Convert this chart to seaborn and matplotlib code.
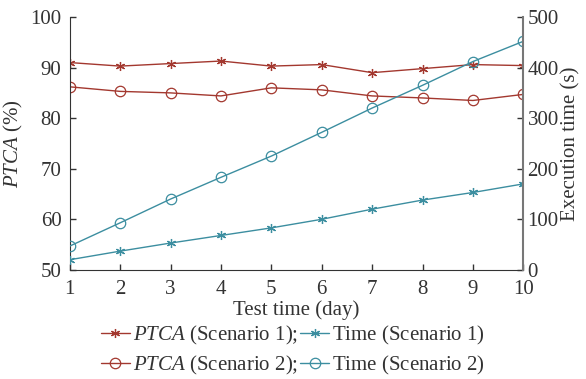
import pandas as pd
import numpy as np
import matplotlib
matplotlib.use("Agg")
import matplotlib.pyplot as plt
import seaborn as sns

days = [1, 2, 3, 4, 5, 6, 7, 8, 9, 10]
ptca_s1 = [91.0, 90.3, 90.8, 91.3, 90.3, 90.6, 89.0, 89.8, 90.6, 90.4]
ptca_s2 = [86.2, 85.3, 85.0, 84.4, 86.0, 85.6, 84.4, 84.0, 83.5, 84.7]
time_s1 = [20, 37, 53, 68, 83, 100, 120, 138, 153, 170]
time_s2 = [47, 93, 140, 183, 225, 272, 320, 365, 412, 452]

red = "#a3382f"
teal = "#3c8ea0"

sns.set_style("ticks")
plt.rcParams['font.family'] = ['Liberation Serif', 'DejaVu Serif']
plt.rcParams['mathtext.fontset'] = 'custom'
plt.rcParams['mathtext.it'] = 'Liberation Serif:italic'
plt.rcParams['mathtext.rm'] = 'Liberation Serif'
plt.rcParams['xtick.direction'] = 'in'
plt.rcParams['ytick.direction'] = 'in'

df = pd.DataFrame({"day": days, "ptca1": ptca_s1, "ptca2": ptca_s2,
                   "t1": time_s1, "t2": time_s2})

fig = plt.figure(figsize=(5.86, 3.79), dpi=100)
ax = fig.add_axes([0.119, 0.288, 0.774, 0.667])
ax2 = ax.twinx()

lw = 1.0
star = dict(marker=(6, 2, 0), markersize=6.5, markeredgewidth=0.9)
circ = dict(marker="o", markersize=7.5, markerfacecolor="none", markeredgewidth=0.9)

# every legend label gets a bit of mathtext so the two columns line up
sns.lineplot(data=df, x="day", y="ptca1", ax=ax, color=red, lw=lw,
             markeredgecolor=red, label=r"$\it{PTCA}$ (Scenario 1);",
             legend=False, **star)
sns.lineplot(data=df, x="day", y="ptca2", ax=ax, color=red, lw=lw,
             markeredgecolor=red, label=r"$\it{PTCA}$ (Scenario 2);",
             legend=False, **circ)
sns.lineplot(data=df, x="day", y="t1", ax=ax2, color=teal, lw=lw,
             markeredgecolor=teal, label=r"$\mathrm{Time}$ (Scenario 1)",
             legend=False, **star)
sns.lineplot(data=df, x="day", y="t2", ax=ax2, color=teal, lw=lw,
             markeredgecolor=teal, label=r"$\mathrm{Time}$ (Scenario 2)",
             legend=False, **circ)

ax.set_xlim(1, 10)
ax.set_ylim(50, 100)
ax2.set_ylim(0, 500)
ax.set_xticks(days)
ax.set_yticks(np.arange(50, 101, 10))
ax2.set_yticks(np.arange(0, 501, 100))

ax.tick_params(labelsize=15, length=4, width=1, colors="#333333", pad=6)
ax.tick_params(axis="x", pad=7)
ax2.tick_params(labelsize=15, length=4, width=1, colors="#333333", pad=3)
for a in (ax, ax2):
    a.spines['top'].set_visible(False)
ax.spines['right'].set_visible(False)
ax2.spines['left'].set_visible(False)
ax2.spines['bottom'].set_visible(False)
ax2.spines['right'].set_color("#777777")
ax2.spines['right'].set_linewidth(1.5)
ax.spines['left'].set_color("#333333")
ax.spines['bottom'].set_color("#333333")

ax.set_xlabel("Test time (day)", fontsize=15, color="#333333", labelpad=1)
ax.set_ylabel(r"$\it{PTCA}$ (%)", fontsize=15, color="#333333", labelpad=4)
ax2.set_ylabel("Execution time (s)", fontsize=15, color="#333333", labelpad=2)

h1, l1 = ax.get_legend_handles_labels()
h2, l2 = ax2.get_legend_handles_labels()
fig.legend(h1 + h2, l1 + l2, ncol=2, loc="lower center",
           bbox_to_anchor=(0.5, -0.045), frameon=False, fontsize=15,
           columnspacing=0.1, handlelength=1.4, handletextpad=0.15,
           labelspacing=0.35, labelcolor="#333333")

fig.savefig("out.png", dpi=100)
